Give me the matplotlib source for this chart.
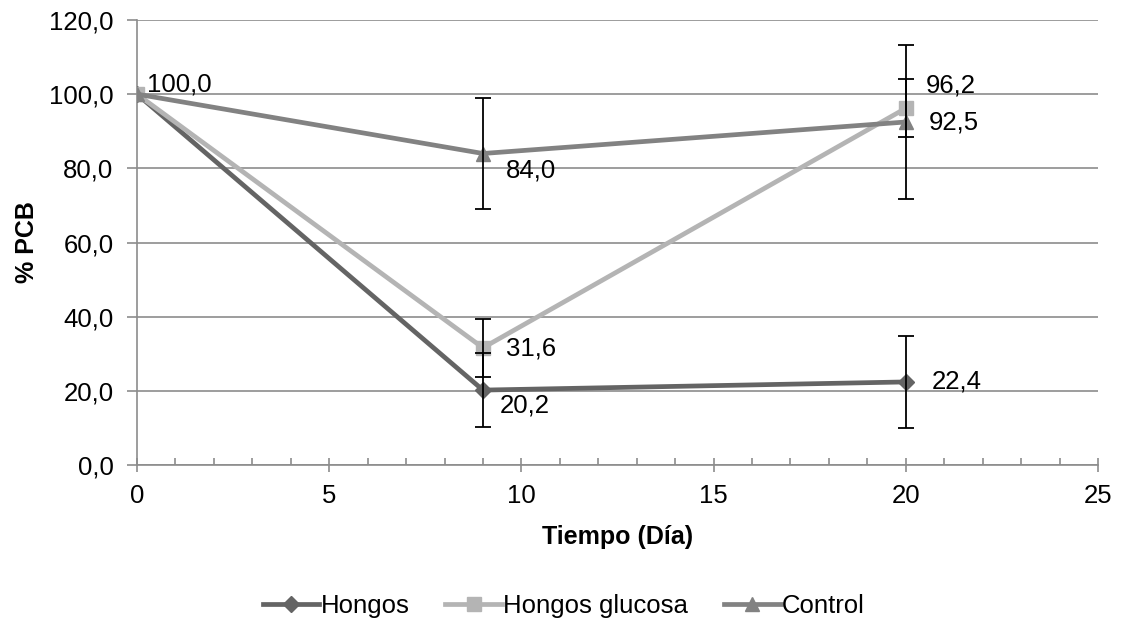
import matplotlib
matplotlib.use("Agg")
import matplotlib.pyplot as plt
from matplotlib.ticker import MultipleLocator, FuncFormatter

plt.rcParams['font.family'] = ['Liberation Sans', 'DejaVu Sans']

days = [0, 9, 20]
hongos = [100.0, 20.2, 22.4]
hongos_err = [0.0, 9.9, 12.3]
glucosa = [100.0, 31.6, 96.2]
glucosa_err = [0.0, 7.9, 7.8]
control = [100.0, 84.0, 92.5]
control_err = [0.0, 14.9, 20.8]

series_names = ["Hongos", "Hongos glucosa", "Control"]
colors = ["#646464", "#b4b4b4", "#828282"]
markers = ["D", "s", "^"]
msizes = [8, 10, 10]

fig = plt.figure(figsize=(11.23, 6.21), dpi=100)
ax = fig.add_axes([137/1123, 1 - 465/621, (1098 - 137)/1123, (465 - 20)/621])

data = [(hongos, hongos_err), (glucosa, glucosa_err), (control, control_err)]
for (vals, errs), name, c, m, ms in zip(data, series_names, colors, markers, msizes):
    ax.plot(days, vals, color=c, lw=3.4, marker=m, ms=ms, mec=c, mfc=c, label=name, zorder=3)
    ax.errorbar(days[1:], vals[1:], yerr=errs[1:], fmt='none', ecolor='black',
                elinewidth=1.3, capsize=6, capthick=1.3, zorder=4)

# data labels (offsets in pixels -> points)
px = 0.72
label_specs = [
    (days[0], control[0], "100,0", (10, 10)),
    (days[1], hongos[1], "20,2", (17, -15)),
    (days[2], hongos[2], "22,4", (26, 0)),
    (days[1], glucosa[1], "31,6", (23, -1)),
    (days[2], glucosa[2], "96,2", (20, 23)),
    (days[1], control[1], "84,0", (23, -17)),
    (days[2], control[2], "92,5", (23, -1)),
]
for x, y, t, off in label_specs:
    ax.annotate(t, (x, y), xytext=(off[0]*px, off[1]*px), textcoords='offset points',
                fontsize=18.5, va='center', ha='left', zorder=5)

ax.set_xlim(0, 25)
ax.set_ylim(0, 120)
ax.xaxis.set_major_locator(MultipleLocator(5))
ax.xaxis.set_minor_locator(MultipleLocator(1))
ax.yaxis.set_major_locator(MultipleLocator(20))
ax.yaxis.set_major_formatter(FuncFormatter(lambda v, p: f"{v:.1f}".replace('.', ',')))

ax.grid(axis='y', color='#8c8c8c', lw=1.2, zorder=0)
ax.set_axisbelow(True)
for s in ['top', 'right']:
    ax.spines[s].set_visible(False)
for s in ['left', 'bottom']:
    ax.spines[s].set_color('#8c8c8c')
    ax.spines[s].set_linewidth(1.2)

ax.tick_params(axis='x', which='major', direction='inout', length=10, width=1.2,
               color='#8c8c8c', labelsize=18.5, pad=9)
ax.tick_params(axis='x', which='minor', direction='in', length=5, width=1.2, color='#8c8c8c')
ax.tick_params(axis='y', which='major', direction='out', length=7, width=1.2,
               color='#8c8c8c', labelsize=18.5, pad=10)

ax.set_xlabel("Tiempo (Día)", fontsize=18, fontweight='bold', labelpad=12)
ax.set_ylabel("% PCB", fontsize=18, fontweight='bold', labelpad=7)

handles, labels = ax.get_legend_handles_labels()
fig.legend(handles, labels, loc='center', bbox_to_anchor=(0.502, 1 - 606/621), ncol=3,
           frameon=False, fontsize=18.5, handlelength=2.2, handletextpad=0.05,
           columnspacing=1.4)

fig.savefig("out.png", dpi=100)
